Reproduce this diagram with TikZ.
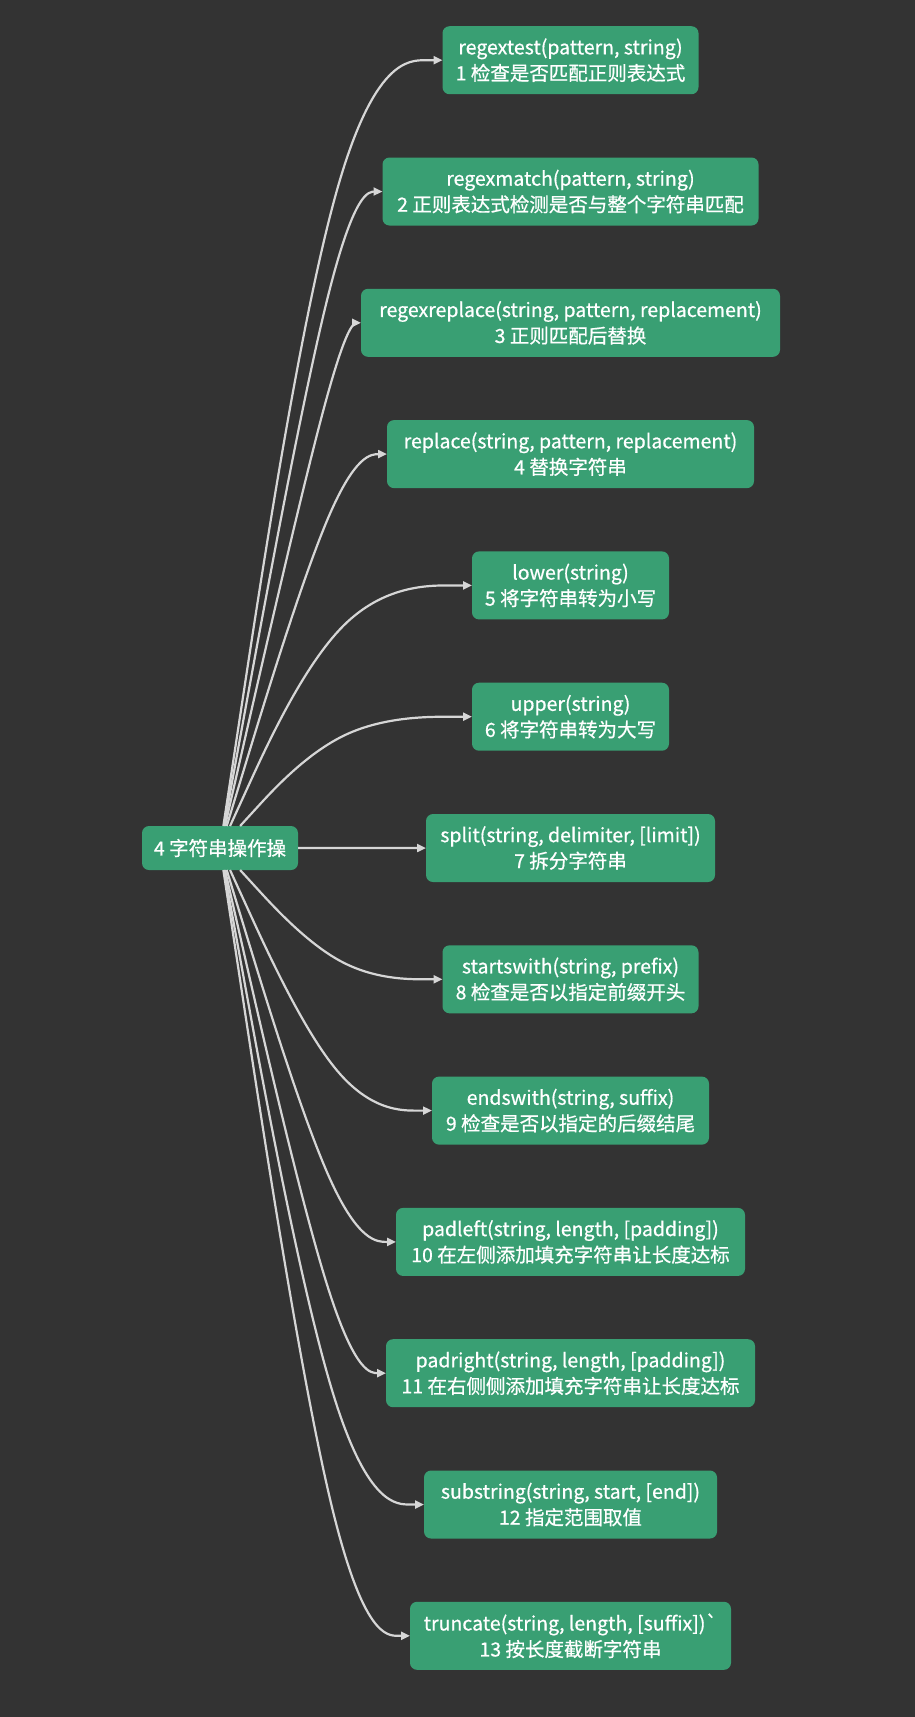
\documentclass[tikz,border=0pt]{standalone}
\usepackage{fontspec}
\setmainfont{Noto Sans CJK SC}[Ligatures=TeXOff, FakeBold=0.7]
\usetikzlibrary{calc,arrows.meta}
\definecolor{bg}{RGB}{51,51,51}
\definecolor{nodegreen}{RGB}{57,159,115}
\definecolor{edgegray}{RGB}{214,214,214}
\tikzset{
  box/.style={fill=nodegreen, rounded corners=7pt, text=white, align=center,
    minimum height=68pt, inner sep=0pt, outer sep=0pt,
    font=\fontsize{19.5pt}{26pt}\selectfont},
  edge/.style={draw=edgegray, line width=2.2pt, -{Triangle[length=9pt,width=8pt]}},
}
\begin{document}
\begin{tikzpicture}[x=1pt,y=-1pt]
\fill[bg] (0,0) rectangle (915,1717);
\useasboundingbox (0,0) rectangle (915,1717);
\node[box, minimum width=156pt, minimum height=44pt] (root) at (220,848) {4 字符串操作操};
\node[box, minimum width=256pt] (c1) at (570.5,60.2) {regextest(pattern, string)\\1 检查是否匹配正则表达式};
\node[box, minimum width=376pt] (c2) at (570.5,191.5) {regexmatch(pattern, string)\\2 正则表达式检测是否与整个字符串匹配};
\node[box, minimum width=419pt] (c3) at (570.5,322.8) {regexreplace(string, pattern, replacement)\\3 正则匹配后替换};
\node[box, minimum width=367pt] (c4) at (570.5,454.1) {replace(string, pattern, replacement)\\4 替换字符串};
\node[box, minimum width=197pt] (c5) at (570.5,585.4) {lower(string)\\5 将字符串转为小写};
\node[box, minimum width=197pt] (c6) at (570.5,716.7) {upper(string)\\6 将字符串转为大写};
\node[box, minimum width=289pt] (c7) at (570.5,848) {split(string, delimiter, [limit])\\7 拆分字符串};
\node[box, minimum width=256pt] (c8) at (570.5,979.3) {startswith(string, prefix)\\8 检查是否以指定前缀开头};
\node[box, minimum width=277pt] (c9) at (570.5,1110.6) {endswith(string, suffix)\\9 检查是否以指定的后缀结尾};
\node[box, minimum width=349pt] (c10) at (570.5,1241.9) {padleft(string, length, [padding])\\10 在左侧添加填充字符串让长度达标};
\node[box, minimum width=369pt] (c11) at (570.5,1373.2) {padright(string, length, [padding])\\11 在右侧侧添加填充字符串让长度达标};
\node[box, minimum width=293pt] (c12) at (570.5,1504.5) {substring(string, start, [end])\\12 指定范围取值};
\node[box, minimum width=321pt] (c13) at (570.5,1635.8) {truncate(string, length, [suffix])`\\13 按长度截断字符串};
\coordinate (mid) at (340,848);
\foreach \i in {1,...,13}{
  \coordinate (m\i) at (c\i.west -| mid);
  \path (root) -- (m\i) coordinate[pos=0] (s\i);
  \draw[edge] (root) -- ($(s\i)!1/6!(m\i)$)
    .. controls ($(s\i)!1/3!(m\i)$) and ($(s\i)!2/3!(m\i)$) .. ($1/6*(s\i)+2/3*(m\i)+1/6*(c\i.west)$)
    .. controls ($(m\i)!1/3!(c\i.west)$) and ($(m\i)!2/3!(c\i.west)$) .. ($(m\i)!5/6!(c\i.west)$)
    -- (c\i.west);
}
\end{tikzpicture}
\end{document}
